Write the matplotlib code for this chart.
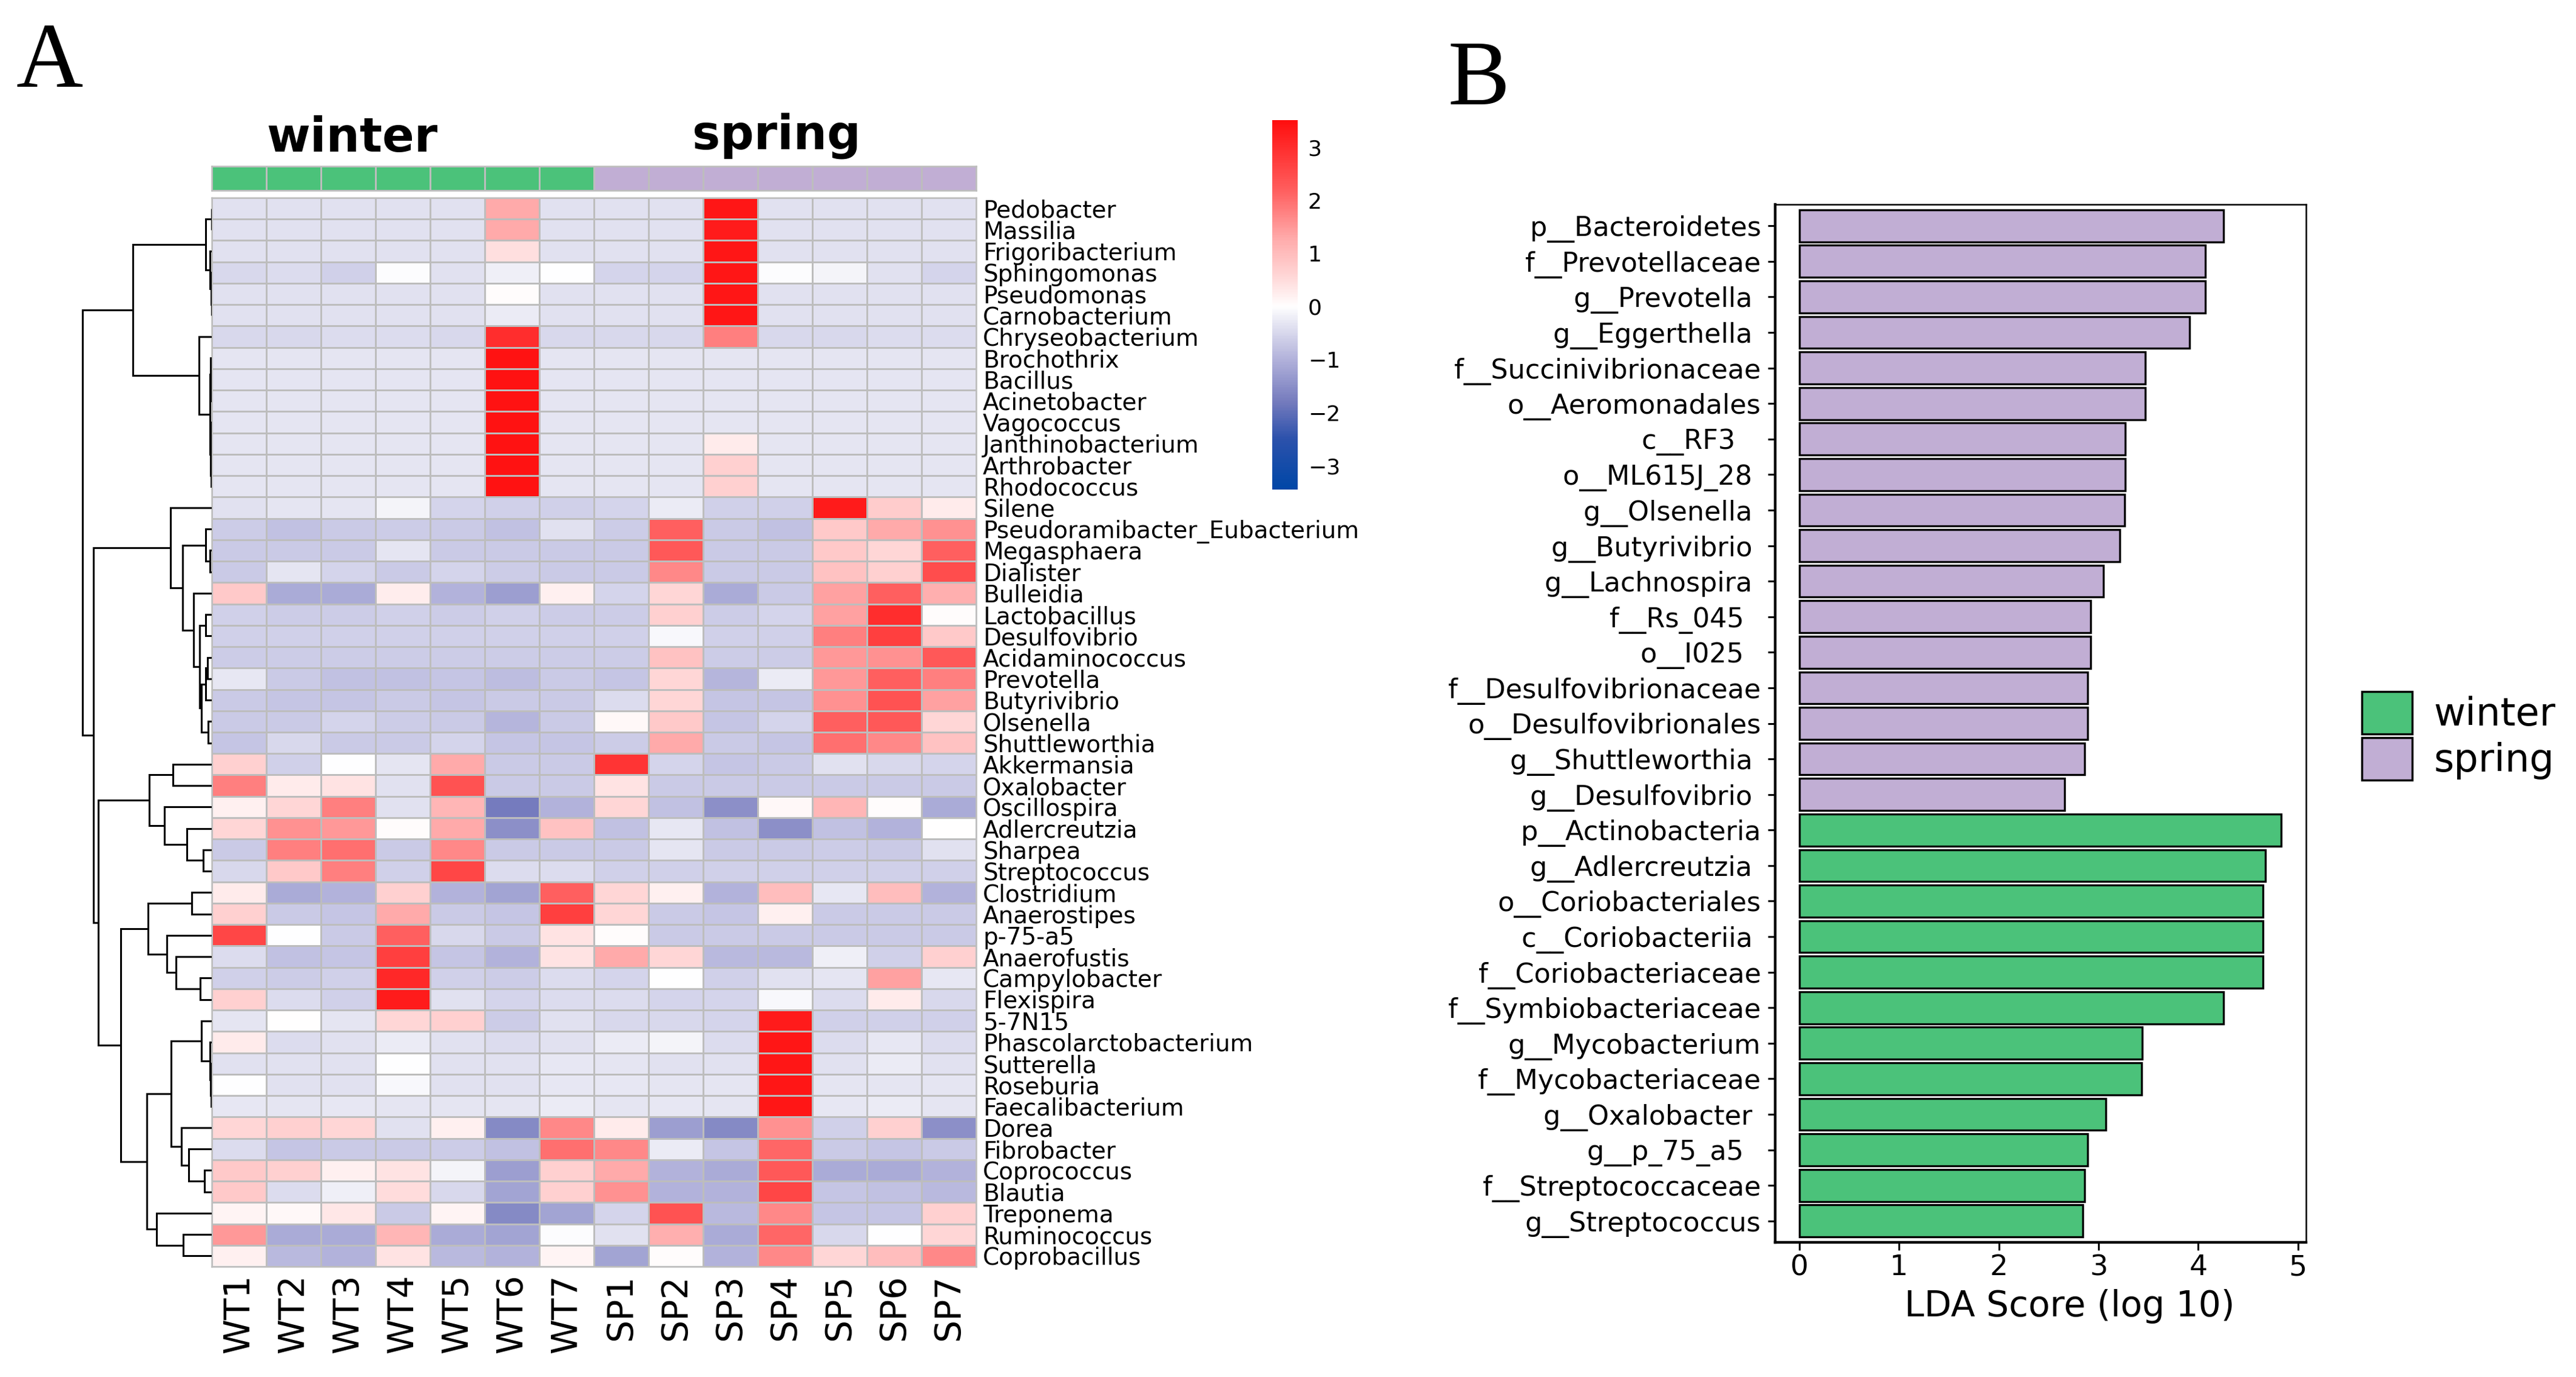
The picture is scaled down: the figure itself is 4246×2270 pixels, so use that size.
import matplotlib
matplotlib.use("Agg")
import matplotlib.pyplot as plt
import numpy as np
from matplotlib.colors import LinearSegmentedColormap, ListedColormap
from matplotlib.patches import Patch

# ---------------- data ----------------
samples = ["WT1", "WT2", "WT3", "WT4", "WT5", "WT6", "WT7",
           "SP1", "SP2", "SP3", "SP4", "SP5", "SP6", "SP7"]
sample_group = [0] * 7 + [1] * 7          # 0 = winter, 1 = spring

genera = ["Pedobacter", "Massilia", "Frigoribacterium", "Sphingomonas", "Pseudomonas",
          "Carnobacterium", "Chryseobacterium", "Brochothrix", "Bacillus", "Acinetobacter",
          "Vagococcus", "Janthinobacterium", "Arthrobacter", "Rhodococcus", "Silene",
          "Pseudoramibacter_Eubacterium", "Megasphaera", "Dialister", "Bulleidia",
          "Lactobacillus", "Desulfovibrio", "Acidaminococcus", "Prevotella", "Butyrivibrio",
          "Olsenella", "Shuttleworthia", "Akkermansia", "Oxalobacter", "Oscillospira",
          "Adlercreutzia", "Sharpea", "Streptococcus", "Clostridium", "Anaerostipes",
          "p-75-a5", "Anaerofustis", "Campylobacter", "Flexispira", "5-7N15",
          "Phascolarctobacterium", "Sutterella", "Roseburia", "Faecalibacterium", "Dorea",
          "Fibrobacter", "Coprococcus", "Blautia", "Treponema", "Ruminococcus",
          "Coprobacillus"]

winter_z = [
    [-0.4, -0.4, -0.4, -0.4, -0.4, 1.3, -0.4],
    [-0.4, -0.4, -0.4, -0.4, -0.4, 1.3, -0.4],
    [-0.4, -0.4, -0.4, -0.4, -0.4, 0.45, -0.4],
    [-0.5, -0.45, -0.6, -0.05, -0.4, -0.2, 0.0],
    [-0.4, -0.4, -0.4, -0.4, -0.4, 0.05, -0.4],
    [-0.4, -0.4, -0.4, -0.4, -0.4, -0.25, -0.4],
    [-0.5, -0.5, -0.45, -0.45, -0.5, 3.0, -0.5],
    [-0.35, -0.35, -0.35, -0.35, -0.35, 3.45, -0.35],
    [-0.35, -0.35, -0.35, -0.35, -0.35, 3.45, -0.35],
    [-0.35, -0.35, -0.35, -0.35, -0.35, 3.45, -0.35],
    [-0.35, -0.35, -0.35, -0.35, -0.35, 3.45, -0.35],
    [-0.35, -0.35, -0.35, -0.35, -0.35, 3.45, -0.35],
    [-0.35, -0.35, -0.35, -0.35, -0.35, 3.45, -0.35],
    [-0.35, -0.35, -0.35, -0.35, -0.35, 3.45, -0.35],
    [-0.4, -0.35, -0.35, -0.15, -0.55, -0.6, -0.6],
    [-0.65, -0.8, -0.7, -0.65, -0.7, -0.8, -0.4],
    [-0.7, -0.7, -0.7, -0.35, -0.7, -0.7, -0.7],
    [-0.7, -0.35, -0.55, -0.7, -0.55, -0.65, -0.7],
    [0.8, -1.1, -1.1, 0.25, -1.0, -1.3, 0.2],
    [-0.6, -0.65, -0.65, -0.6, -0.65, -0.6, -0.65],
    [-0.6, -0.6, -0.6, -0.6, -0.6, -0.6, -0.6],
    [-0.65, -0.65, -0.65, -0.65, -0.65, -0.65, -0.65],
    [-0.3, -0.7, -0.8, -0.8, -0.75, -0.85, -0.7],
    [-0.7, -0.75, -0.75, -0.7, -0.75, -0.7, -0.7],
    [-0.7, -0.7, -0.55, -0.65, -0.7, -0.95, -0.7],
    [-0.75, -0.5, -0.7, -0.7, -0.55, -0.75, -0.75],
    [0.7, -0.6, 0.0, -0.35, 1.3, -0.7, -0.7],
    [1.8, 0.3, 0.4, -0.4, 2.4, -0.7, -0.7],
    [0.2, 0.6, 1.8, -0.4, 1.1, -1.8, -1.0],
    [0.6, 1.6, 1.5, 0.05, 1.3, -1.5, 0.9],
    [-0.7, 1.8, 2.0, -0.7, 1.7, -0.7, -0.7],
    [-0.5, 0.8, 1.8, -0.6, 2.6, -0.45, -0.45],
    [0.3, -1.1, -1.0, 0.7, -1.0, -1.2, 2.2],
    [0.7, -0.7, -0.75, 1.3, -0.7, -0.75, 2.7],
    [2.6, 0.0, -0.7, 2.2, -0.5, -0.7, 0.4],
    [-0.45, -0.8, -0.75, 2.7, -0.75, -1.0, 0.4],
    [-0.6, -0.65, -0.6, 3.1, -0.6, -0.65, -0.45],
    [0.7, -0.45, -0.6, 3.3, -0.4, -0.55, -0.45],
    [-0.35, 0.02, -0.35, 0.6, 0.7, -0.65, -0.4],
    [0.3, -0.45, -0.4, -0.25, -0.4, -0.45, -0.4],
    [-0.4, -0.4, -0.4, 0.0, -0.4, -0.4, -0.3],
    [0.0, -0.4, -0.4, -0.1, -0.4, -0.4, -0.3],
    [-0.3, -0.35, -0.3, -0.35, -0.35, -0.35, -0.25],
    [0.6, 0.7, 0.6, -0.4, 0.2, -1.6, 1.7],
    [-0.45, -0.75, -0.7, -0.7, -0.65, -0.8, 2.0],
    [0.8, 0.7, 0.2, 0.4, -0.15, -1.3, 0.7],
    [0.8, -0.45, -0.2, 0.5, -0.5, -1.2, 0.7],
    [0.15, 0.1, 0.35, -0.7, 0.15, -1.6, -1.2],
    [1.5, -1.1, -1.1, 1.1, -1.1, -1.2, -0.05],
    [0.2, -0.9, -1.0, 0.4, -0.9, -1.0, 0.15],
]

spring_z = [
    [-0.4, -0.4, 3.4, -0.4, -0.4, -0.4, -0.4],
    [-0.4, -0.4, 3.3, -0.4, -0.4, -0.4, -0.4],
    [-0.4, -0.4, 3.4, -0.4, -0.4, -0.4, -0.4],
    [-0.55, -0.55, 3.4, -0.05, -0.15, -0.4, -0.55],
    [-0.4, -0.4, 3.4, -0.4, -0.4, -0.4, -0.4],
    [-0.4, -0.4, 3.4, -0.4, -0.4, -0.4, -0.4],
    [-0.5, -0.5, 1.8, -0.5, -0.5, -0.45, -0.45],
    [-0.35, -0.35, -0.35, -0.35, -0.35, -0.35, -0.35],
    [-0.35, -0.35, -0.35, -0.35, -0.35, -0.35, -0.35],
    [-0.35, -0.35, -0.35, -0.35, -0.35, -0.35, -0.35],
    [-0.35, -0.35, -0.35, -0.35, -0.35, -0.35, -0.35],
    [-0.35, -0.35, 0.3, -0.35, -0.35, -0.35, -0.35],
    [-0.35, -0.35, 0.7, -0.35, -0.35, -0.35, -0.35],
    [-0.35, -0.35, 0.7, -0.35, -0.35, -0.35, -0.35],
    [-0.55, -0.25, -0.6, -0.6, 3.3, 0.75, 0.3],
    [-0.65, 2.2, -0.7, -0.8, 0.8, 1.3, 1.6],
    [-0.7, 2.3, -0.7, -0.7, 0.8, 0.6, 2.2],
    [-0.7, 1.7, -0.7, -0.7, 0.9, 0.7, 2.5],
    [-0.55, 0.6, -1.1, -0.7, 1.4, 2.2, 1.2],
    [-0.65, 0.7, -0.65, -0.55, 1.4, 3.0, 0.05],
    [-0.6, -0.1, -0.6, -0.6, 1.8, 2.7, 0.8],
    [-0.65, 0.9, -0.65, -0.65, 1.5, 1.6, 2.3],
    [-0.75, 0.6, -0.95, -0.25, 1.5, 2.2, 1.8],
    [-0.45, 0.6, -0.75, -0.75, 1.6, 2.4, 1.4],
    [0.1, 0.8, -0.75, -0.55, 2.2, 2.3, 0.6],
    [-0.65, 1.3, -0.7, -0.75, 2.0, 1.7, 0.9],
    [2.9, -0.55, -0.75, -0.7, -0.4, -0.5, -0.55],
    [0.4, -0.7, -0.7, -0.7, -0.7, -0.7, -0.7],
    [0.6, -0.8, -1.5, 0.1, 1.1, 0.05, -1.1],
    [-0.8, -0.3, -0.8, -1.5, -0.8, -1.0, 0.02],
    [-0.7, -0.35, -0.7, -0.7, -0.65, -0.7, -0.4],
    [-0.6, -0.6, -0.6, -0.6, -0.6, -0.6, -0.6],
    [0.6, 0.2, -1.0, 1.0, -0.3, 1.0, -1.0],
    [0.6, -0.7, -0.75, 0.2, -0.7, -0.7, -0.7],
    [0.05, -0.7, -0.7, -0.7, -0.7, -0.7, -0.7],
    [1.3, 0.6, -0.9, -0.9, -0.2, -0.6, 0.7],
    [-0.55, 0.0, -0.6, -0.4, -0.35, 1.4, -0.3],
    [-0.45, -0.55, -0.55, -0.1, -0.45, 0.3, -0.5],
    [-0.5, -0.5, -0.55, 3.3, -0.6, -0.6, -0.6],
    [-0.25, -0.15, -0.45, 3.4, -0.45, -0.3, -0.45],
    [-0.35, -0.4, -0.4, 3.4, -0.4, -0.25, -0.4],
    [-0.3, -0.35, -0.35, 3.4, -0.35, -0.35, -0.35],
    [-0.35, -0.3, -0.35, 3.4, -0.3, -0.25, -0.35],
    [0.3, -1.3, -1.6, 1.6, -0.6, 0.7, -1.5],
    [1.7, -0.25, -0.75, 2.1, -0.7, -0.75, -0.7],
    [1.3, -1.0, -1.1, 2.3, -1.1, -1.1, -1.0],
    [1.6, -1.0, -1.0, 2.6, -0.75, -0.8, -0.9],
    [-0.55, 2.4, -0.9, 1.7, -0.75, -0.75, 0.7],
    [-0.4, 1.2, -1.1, 2.1, -0.5, 0.0, 0.6],
    [-1.2, 0.03, -1.0, 1.7, 0.6, 1.0, 1.7],
]

# row dendrogram: [merge height, left, right]; leaves are row indices
tree_top = [130,
            [10, [0.5, 0, 1], [3, 2, [1.5, 3, [0.5, 4, 5]]]],
            [21, 6, [3, [2, 7, [1, 8, 9]], [2.5, [1, 10, 11], [1.5, 12, 13]]]]]
tree_mid = [68, 14,
            [48, [10, 15, [3, 16, 17]],
             [30, 18, [20, [10, 19, 20], [17, [10, [7, 21, 22], 23], [6, 24, 25]]]]]]
tree_low_a = [103, [64, 26, 27], [78, 28, [41, 29, [14, 30, 31]]]]
tree_low_b = [105, [33, 32, 33], [74, 34, [59, 35, [19, 36, 37]]]]
tree_low_c = [107,
              [67, [17, 38, [3, 39, [2, 40, [1, 41, 42]]]], [50, 43, [38, 44, [12, 45, 46]]]],
              [91, 47, [47, 48, 49]]]
row_tree = [213, tree_top, [195, tree_mid, [187, tree_low_a, [150, tree_low_b, tree_low_c]]]]

# LEfSe LDA scores
lda_features = ["p__Bacteroidetes", "f__Prevotellaceae", "g__Prevotella ", "g__Eggerthella ",
                "f__Succinivibrionaceae", "o__Aeromonadales", "c__RF3   ", "o__ML615J_28 ",
                "g__Olsenella ", "g__Butyrivibrio ", "g__Lachnospira ", "f__Rs_045  ",
                "o__I025  ", "f__Desulfovibrionaceae", "o__Desulfovibrionales",
                "g__Shuttleworthia ", "g__Desulfovibrio ",
                "p__Actinobacteria", "g__Adlercreutzia ", "o__Coriobacteriales",
                "c__Coriobacteriia ", "f__Coriobacteriaceae", "f__Symbiobacteriaceae",
                "g__Mycobacterium", "f__Mycobacteriaceae", "g__Oxalobacter ", "g__p_75_a5  ",
                "f__Streptococcaceae", "g__Streptococcus"]
lda_scores = [4.25, 4.07, 4.07, 3.91, 3.47, 3.47, 3.27, 3.27, 3.26, 3.21, 3.05, 2.92,
              2.92, 2.89, 2.89, 2.86, 2.66,
              4.83, 4.67, 4.65, 4.65, 4.65, 4.25, 3.44, 3.43, 3.07, 2.89, 2.86, 2.84]
lda_group = ["spring"] * 17 + ["winter"] * 12
group_names = ["winter", "spring"]

# ---------------- style ----------------
GREEN = "#4BC27A"
PURPLE = "#C1AED4"
group_colors = {"winter": GREEN, "spring": PURPLE}
GRID = "#BDBDBD"

W, H = 4246, 2270
fig = plt.figure(figsize=(W / 100, H / 100), dpi=100)
plt.rcParams["font.family"] = ["DejaVu Sans"]


def add_ax(left, top, right, bottom):
    return fig.add_axes([left / W, 1 - bottom / H, (right - left) / W, (bottom - top) / H])


vmin, vmax = -3.45, 3.51
stops = [(-3.45, (0, 71, 167)), (-2.5, (45, 82, 172)), (-1.8, (118, 124, 190)),
         (-1.0, (178, 178, 219)), (-0.4, (224, 224, 240)), (0.0, (255, 255, 255)),
         (0.5, (255, 220, 220)), (1.3, (255, 170, 170)), (2.2, (255, 95, 95)),
         (3.51, (255, 15, 15))]
cmap = LinearSegmentedColormap.from_list(
    "bwr_ph", [((v - vmin) / (vmax - vmin), tuple(c / 255 for c in col)) for v, col in stops])

Z = np.hstack([np.array(winter_z), np.array(spring_z)])
nrow, ncol = Z.shape

# ---------------- heatmap ----------------
HM_L, HM_T, HM_R, HM_B = 349, 326, 1609, 2088
ax_hm = add_ax(HM_L, HM_T, HM_R, HM_B)
ax_hm.pcolormesh(np.arange(ncol + 1) - 0.5, np.arange(nrow + 1) - 0.5, Z, cmap=cmap,
                 vmin=vmin, vmax=vmax, edgecolors=GRID, linewidth=1.8)
ax_hm.set_xlim(-0.5, ncol - 0.5)
ax_hm.set_ylim(nrow - 0.5, -0.5)
ax_hm.yaxis.tick_right()
ax_hm.set_yticks(np.arange(nrow))
ax_hm.set_yticklabels(genera, fontsize=28)
ax_hm.set_xticks(np.arange(ncol))
ax_hm.set_xticklabels(samples, fontsize=42, rotation=90, va="top")
ax_hm.tick_params(axis="both", length=0)
ax_hm.tick_params(axis="y", pad=8)
ax_hm.tick_params(axis="x", pad=9)
for s in ax_hm.spines.values():
    s.set_color(GRID)
    s.set_linewidth(1.8)

# annotation bar
ax_an = add_ax(HM_L, 274, HM_R, 314)
ax_an.pcolormesh(np.arange(ncol + 1) - 0.5, [0, 1], np.array([sample_group]),
                 cmap=ListedColormap([GREEN, PURPLE]), vmin=0, vmax=1,
                 edgecolors=GRID, linewidth=1.8)
ax_an.set_xlim(-0.5, ncol - 0.5)
ax_an.set_ylim(0, 1)
ax_an.set_xticks([])
ax_an.set_yticks([])
for s in ax_an.spines.values():
    s.set_color(GRID)
    s.set_linewidth(1.8)

fig.text(580 / W, 1 - 250 / H, "winter", fontsize=56, fontweight="bold", ha="center", va="baseline")
fig.text(1280 / W, 1 - 246 / H, "spring", fontsize=56, fontweight="bold", ha="center", va="baseline")

# dendrogram
ax_dn = add_ax(130, HM_T, HM_L, HM_B)


def node_h(n):
    return 0.0 if isinstance(n, int) else n[0]


def draw_tree(ax, n):
    if isinstance(n, int):
        return float(n)
    h, l, r = n
    yl = draw_tree(ax, l)
    yr = draw_tree(ax, r)
    ax.plot([node_h(l), h, h, node_h(r)], [yl, yl, yr, yr], color="black", lw=2.2,
            solid_capstyle="butt", solid_joinstyle="miter")
    return (yl + yr) / 2


draw_tree(ax_dn, row_tree)
ax_dn.set_xlim(219, 0)
ax_dn.set_ylim(nrow - 0.5, -0.5)
ax_dn.axis("off")

# colorbar
ax_cb = add_ax(2097, 198, 2139, 807)
grad = np.linspace(vmin, vmax, 400).reshape(-1, 1)
ax_cb.imshow(grad, cmap=cmap, vmin=vmin, vmax=vmax, aspect="auto", origin="lower",
             extent=[0, 1, vmin, vmax])
ax_cb.set_ylim(vmin, vmax)
ax_cb.set_xticks([])
ax_cb.yaxis.tick_right()
ax_cb.set_yticks([-3, -2, -1, 0, 1, 2, 3])
ax_cb.set_yticklabels(["\u22123", "\u22122", "\u22121", "0", "1", "2", "3"], fontsize=26)
ax_cb.tick_params(axis="y", length=0, pad=12)
for s in ax_cb.spines.values():
    s.set_visible(False)

# panel letters
fig.text(26 / W, 1 - 37 / H, "A", fontsize=110, family="Liberation Serif", ha="left", va="top")
fig.text(2387 / W, 1 - 66 / H, "B", fontsize=110, family="Liberation Serif", ha="left", va="top")

# ---------------- LDA bar chart ----------------
ax_b = add_ax(2926, 337, 3801, 2048)
ypos = np.arange(len(lda_scores))
ax_b.barh(ypos, lda_scores, height=0.9, color=[group_colors[g] for g in lda_group],
          edgecolor="black", linewidth=2.4)
ax_b.set_ylim(len(lda_scores) - 0.4, -0.6)
ax_b.set_xlim(-0.242, 5.08)
ax_b.set_yticks(ypos)
ax_b.set_yticklabels(lda_features, fontsize=32)
ax_b.set_xticks([0, 1, 2, 3, 4, 5])
ax_b.set_xticklabels(["0", "1", "2", "3", "4", "5"], fontsize=34)
ax_b.tick_params(axis="both", length=9, width=2.2, color="black")
ax_b.tick_params(axis="y", pad=8)
ax_b.tick_params(axis="x", pad=5)
ax_b.set_xlabel("LDA Score (log 10)", fontsize=42, labelpad=4)
ax_b.xaxis.set_label_coords(0.555, -0.045, transform=ax_b.transAxes)
ax_b.xaxis.label.set_va("top")
for name, s in ax_b.spines.items():
    s.set_linewidth(3.2 if name in ("left", "bottom") else 1.8)
    s.set_color("black")

handles = [Patch(facecolor=group_colors[g], edgecolor="black", linewidth=2.5, label=g)
           for g in group_names]
fig.legend(handles=handles, loc="upper left", bbox_to_anchor=(3893 / W, 1 - 1140 / H),
           frameon=False, fontsize=46, handlelength=1.3, handleheight=1.3,
           handletextpad=0.55, labelspacing=0.1, borderpad=0, borderaxespad=0)

fig.savefig("out.png", dpi=100)
